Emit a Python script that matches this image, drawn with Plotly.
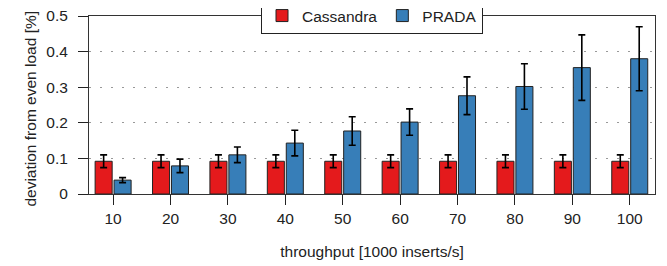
import plotly.graph_objects as go

categories = ["10", "20", "30", "40", "50", "60", "70", "80", "90", "100"]
cassandra = [0.092, 0.092, 0.092, 0.092, 0.092, 0.092, 0.092, 0.092, 0.092, 0.092]
cassandra_err = [0.018, 0.018, 0.018, 0.018, 0.018, 0.018, 0.018, 0.018, 0.018, 0.018]
prada = [0.039, 0.079, 0.110, 0.143, 0.177, 0.202, 0.276, 0.302, 0.355, 0.380]
prada_err = [0.007, 0.019, 0.022, 0.036, 0.040, 0.037, 0.053, 0.064, 0.092, 0.090]

font = "Liberation Sans, Arial, sans-serif"
fs = 15.5
W, H = 659, 258
ML, MR, MT, MB = 81, 12, 8, 72
fig = go.Figure()
fig.add_trace(go.Bar(
    name="Cassandra", x=categories, y=cassandra,
    marker=dict(color="#e41a1c", line=dict(color="#222222", width=1)),
    error_y=dict(type="data", array=cassandra_err, color="#000000", thickness=1.6, width=3.5),
))
fig.add_trace(go.Bar(
    name="PRADA", x=categories, y=prada,
    marker=dict(color="#377eb8", line=dict(color="#222222", width=1)),
    error_y=dict(type="data", array=prada_err, color="#000000", thickness=1.6, width=3.5),
))

plot_w = W - ML - MR
# The page body has an 8px default margin, so the figure is sized to fill the rest.
fig.update_layout(
    width=W, height=H,
    margin=dict(l=ML, r=MR, t=MT, b=MB, autoexpand=False),
    paper_bgcolor="white", plot_bgcolor="white",
    barmode="group", bargap=0.34, bargroupgap=0.1,
    font=dict(family=font, size=fs, color="#222222"),
    showlegend=True,
    legend=dict(
        orientation="h", x=0.5, xanchor="center", y=1.0, yanchor="middle",
        bgcolor="white", bordercolor="#222222", borderwidth=1,
        font=dict(family=font, size=fs, color="#222222"),
        itemwidth=30, tracegroupgap=0,
    ),
    xaxis=dict(
        type="category", range=[-0.42, 9.44],
        showline=True, linecolor="#333333", linewidth=1, mirror=True,
        ticks="outside", ticklen=10, tickcolor="#222222", tickwidth=1,
        showgrid=False,
        title=dict(text="throughput [1000 inserts/s]", standoff=20,
                   font=dict(family=font, size=fs, color="#222222")),
    ),
    yaxis=dict(
        range=[0, 0.5], dtick=0.1,
        showline=True, linecolor="#333333", linewidth=1, mirror=True,
        ticks="outside", ticklen=10, tickcolor="#222222", tickwidth=1,
        ticklabelstandoff=7, ticklabeloverflow="allow",
        showgrid=True, gridcolor="#999999", gridwidth=1, griddash="2px,9px",
        zeroline=False,
    ),
    annotations=[dict(
        text="deviation from even load [%]", textangle=-90,
        xref="paper", yref="paper", x=-58 / plot_w, y=0.48,
        xanchor="center", yanchor="middle", showarrow=False,
        font=dict(family=font, size=fs, color="#222222"),
    )],
)

fig.write_html("out.html")
